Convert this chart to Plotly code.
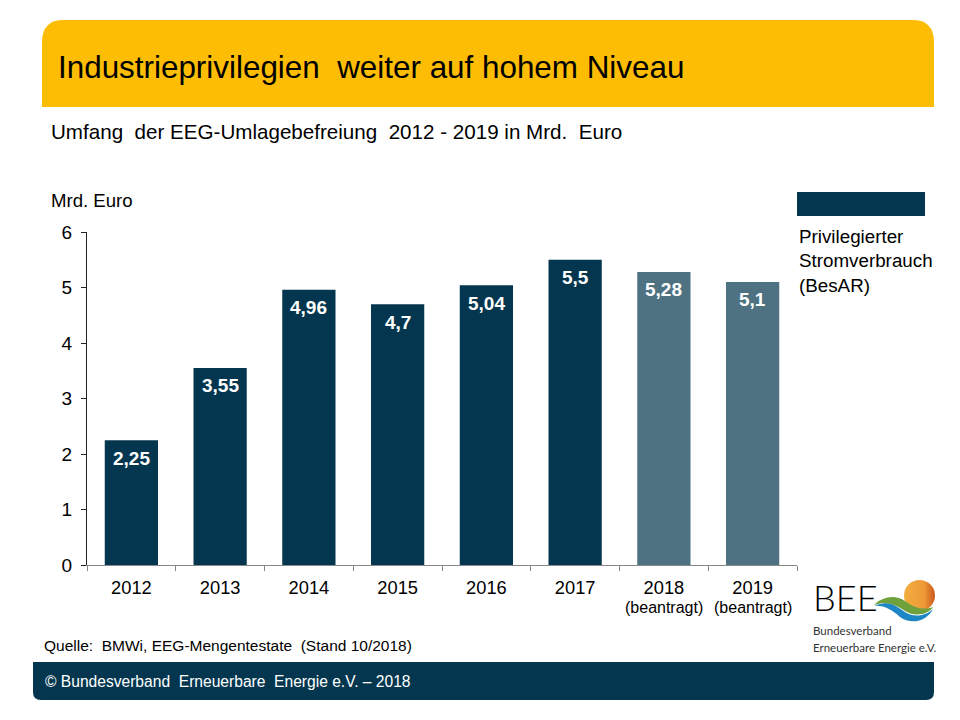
import base64
import plotly.graph_objects as go

W, H = 960, 720

# Data
years = ["2012", "2013", "2014", "2015", "2016", "2017", "2018", "2019"]
values = [2.25, 3.55, 4.96, 4.7, 5.04, 5.5, 5.28, 5.1]
requested = ["2018", "2019"]
y_ticks = [0, 1, 2, 3, 4, 5, 6]

title_text = "Industrieprivilegien\u00a0 weiter auf hohem Niveau"
subtitle_text = "Umfang\u00a0 der EEG-Umlagebefreiung\u00a0 2012 - 2019 in Mrd.\u00a0 Euro"
source_text = "Quelle:\u00a0 BMWi, EEG-Mengentestate\u00a0 (Stand 10/2018)"
footer_text = "© Bundesverband\u00a0 Erneuerbare\u00a0 Energie e.V. – 2018"
legend_text = "Privilegierter<br>Stromverbrauch<br>(BesAR)"

DARK = "#04374F"
LIGHT = "#4F7283"
YELLOW = "#FDBD05"
FONT = "Liberation Sans"

SUN_SVG = (
    '<svg xmlns="http://www.w3.org/2000/svg" width="100" height="100">'
    '<defs><linearGradient id="g"><stop offset="0" stop-color="#F2AE3E"/>'
    '<stop offset="0.65" stop-color="#EE9A37"/><stop offset="1" stop-color="#C9571F"/>'
    '</linearGradient></defs><circle cx="50" cy="50" r="50" fill="url(#g)"/></svg>'
)


def px(x):
    return x / W


def py(y):
    return 1 - y / H


def path(points):
    # pixel path string -> paper coordinates, letters pass through
    out = []
    for p in points:
        if isinstance(p, str):
            out.append(p)
        else:
            out.append(f"{px(p[0]):.5f},{py(p[1]):.5f}")
    return " ".join(out)


def text(x, y, s, size, color="black", anchor="left", family=FONT, **kw):
    font = dict(family=family, size=size, color=color)
    font.update(kw)
    return dict(xref="paper", yref="paper", x=px(x), y=py(y), text=s, showarrow=False,
                xanchor=anchor, yanchor="middle", align="left", font=font)


bar_colors = [LIGHT if y in requested else DARK for y in years]
bar_labels = [str(v).replace(".", ",") for v in values]

fig = go.Figure()
fig.add_trace(go.Bar(x=years, y=values, marker=dict(color=bar_colors, line_width=0), width=0.6))

shapes = [
    # header
    dict(type="path", xref="paper", yref="paper", fillcolor=YELLOW, line_width=0,
         path=path(["M", (42, 107), "L", (42, 42), "Q", (42, 20), "", (64, 20), "L", (912, 20),
                    "Q", (934, 20), "", (934, 42), "L", (934, 107), "Z"])),
    # footer
    dict(type="path", xref="paper", yref="paper", fillcolor=DARK, line_width=0,
         path=path(["M", (33, 662), "L", (934, 662), "L", (934, 692), "Q", (934, 700), "", (926, 700),
                    "L", (41, 700), "Q", (33, 700), "", (33, 692), "Z"])),
    # legend swatch
    dict(type="rect", xref="paper", yref="paper", x0=px(797), x1=px(925), y0=py(192), y1=py(216),
         fillcolor=DARK, line_width=0),
    # logo waves
    dict(type="path", xref="paper", yref="paper", fillcolor="#6FA23C", line_width=0, layer="above",
         path=path(["M", (874, 605), "C", (882, 597), "", (895, 594), "", (905, 601),
                    "C", (913, 607), "", (922, 611), "", (933, 607),
                    "C", (928, 615), "", (915, 617), "", (905, 611),
                    "C", (895, 604), "", (885, 601), "", (874, 605), "Z"])),
    dict(type="path", xref="paper", yref="paper", fillcolor="#1D86C4", line_width=0, layer="above",
         path=path(["M", (874, 606), "C", (885, 601), "", (893, 603), "", (902, 610),
                    "C", (912, 618), "", (925, 617), "", (933, 609),
                    "C", (928, 620), "", (912, 626), "", (900, 617),
                    "C", (892, 610), "", (884, 605), "", (874, 606), "Z"])),
]

annotations = [
    text(56, 67, title_text, 31.4),
    text(49, 131, subtitle_text, 20.6),
    text(49, 200, "Mrd. Euro", 18.6),
    text(797, 261, legend_text, 18.8),
    text(42, 645, source_text, 15.5),
    text(43, 681, footer_text, 15.6, color="white"),
    text(811, 597, "BEE", 36, family="Lato", weight=300),
    text(811, 630, "Bundesverband", 11.5, color="#333333", family="Lato"),
    text(811, 647, "Erneuerbare Energie e.V.", 11.5, color="#333333", family="Lato"),
]
# x is the category index here, a numeric looking name would be read as a position
for i, (v, s) in enumerate(zip(values, bar_labels)):
    annotations.append(dict(x=i, y=v, text=f"<b>{s}</b>", showarrow=False, yshift=-18, yanchor="middle",
                            font=dict(family=FONT, size=19, color="white")))
for y in requested:
    annotations.append(dict(x=years.index(y), xref="x", y=py(607), yref="paper", text="(beantragt)",
                            showarrow=False, yanchor="middle", font=dict(family=FONT, size=16)))

fig.update_layout(
    width=W, height=H, autosize=False,
    margin=dict(l=0, r=0, t=0, b=0),
    paper_bgcolor="white", plot_bgcolor="white",
    showlegend=False,
    font=dict(family=FONT, size=18, color="black"),
    images=[dict(source="data:image/svg+xml;base64," + base64.b64encode(SUN_SVG.encode()).decode(),
                 xref="paper", yref="paper", x=px(904), y=py(580), sizex=px(31), sizey=31 / H,
                 xanchor="left", yanchor="top", sizing="stretch", layer="above")],
    xaxis=dict(domain=[px(87), px(797)], type="category", categoryorder="array", categoryarray=years,
               range=[-0.5, len(years) - 0.5], automargin=False,
               tickmode="array", tickvals=years, ticktext=years, tickson="boundaries",
               ticks="outside", ticklen=5, tickcolor="#868686", showline=True, linecolor="#868686",
               linewidth=1, showgrid=False, tickfont=dict(size=18.3), tickangle=0, ticklabelstandoff=6),
    yaxis=dict(domain=[py(565), py(232)], range=[0, 6], tickvals=y_ticks, ticks="outside", ticklen=5,
               automargin=False, tickcolor="#222222", showline=True, linecolor="#222222", linewidth=1,
               showgrid=False, zeroline=False, tickfont=dict(size=19), ticklabelstandoff=5),
    shapes=shapes,
    annotations=annotations,
)

fig.write_html("out.html", config=dict(displayModeBar=False),
               post_script="document.body.style.margin='0';")
